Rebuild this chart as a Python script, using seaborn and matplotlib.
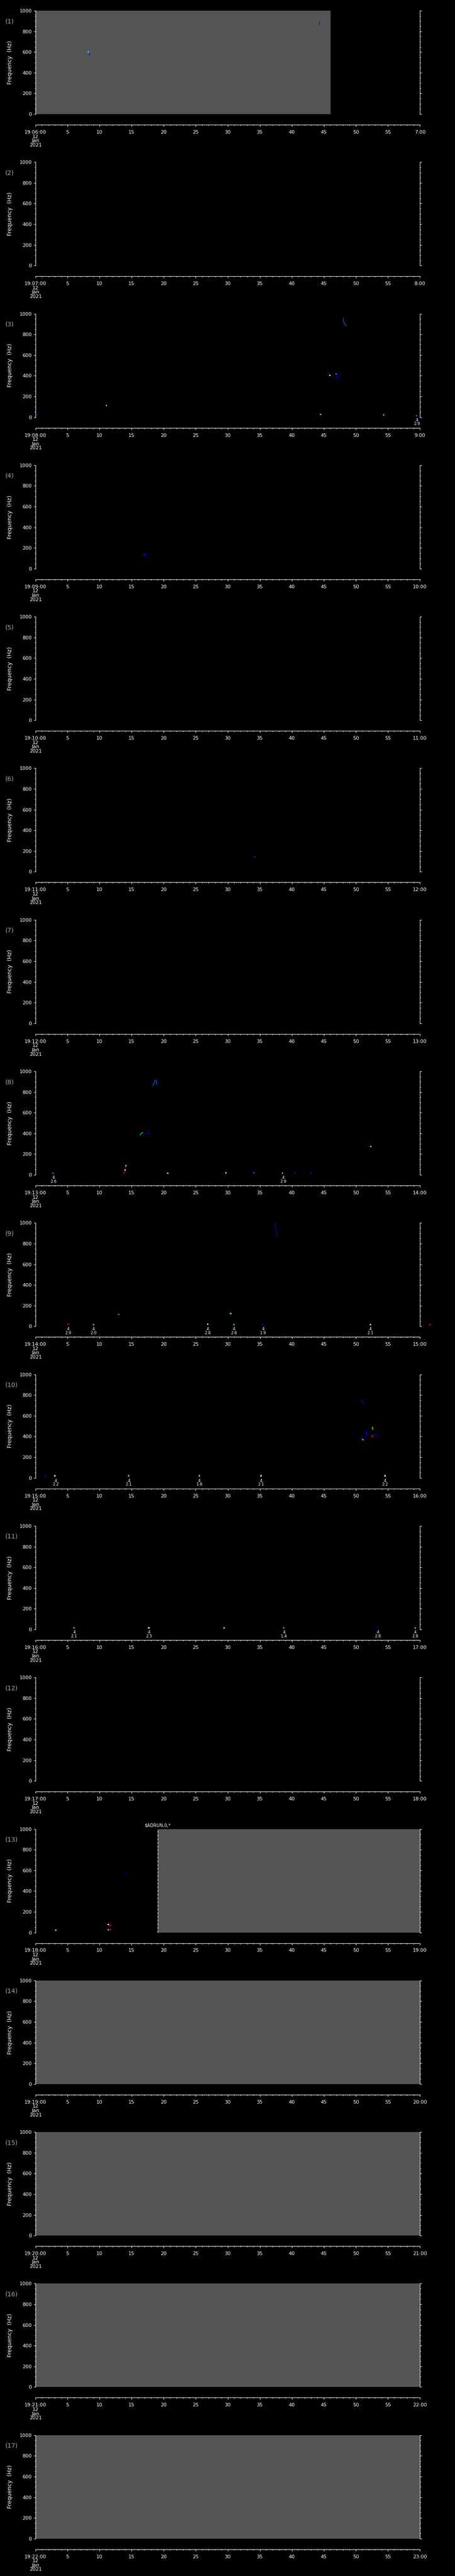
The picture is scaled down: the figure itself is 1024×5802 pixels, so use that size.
import numpy as np
import pandas as pd
import matplotlib
matplotlib.use("Agg")
import matplotlib.pyplot as plt
import matplotlib.transforms as mtransforms
from matplotlib.ticker import MultipleLocator
import seaborn as sns

# ---------------- data ----------------
N_PANELS = 17
START_MINUTE = [6 + i for i in range(N_PANELS)]          # 19:06 ... 19:22
FREQ_TICKS = [0, 200, 400, 600, 800, 1000]

# grey (no-data) spans per panel, seconds
gray_panel = [1, 13, 14, 15, 16, 17]
gray_start = [0.0, 19.05, 0.0, 0.0, 0.0, 0.0]
gray_end = [46.03, 60.0, 60.0, 60.0, 60.0, 60.0]
gap_marker_panel = [13]
gap_marker_text = ["$ADRUN,0,*"]

# streak tracks (time s, frequency Hz)
track_panel = [1, 1, 3, 3, 3, 8, 8, 8, 8, 9, 10, 10, 10, 10, 10, 13, 13]
track_color = ["blue", "dodger", "dodger", "blue", "blue", "dodger", "cyan", "blue", "red",
               "blue", "blue", "blue", "blue", "yellow", "blue", "blue", "red"]
track_t = [
    [44.31, 44.33],
    [8.22, 8.27, 8.40],
    [48.03, 48.10, 48.20, 48.25, 48.38, 48.48],
    [45.58, 45.78, 45.95],
    [46.57, 47.00, 47.12, 47.17],
    [18.32, 18.42, 18.55, 18.68, 18.85, 18.91],
    [16.33, 16.50, 16.78],
    [17.46, 17.60, 17.82],
    [14.00, 14.06, 14.10],
    [37.37, 37.51, 37.60, 37.65, 37.78],
    [50.93, 50.98, 51.34],
    [50.93, 50.98, 51.11],
    [51.45, 51.55, 51.70, 51.72],
    [52.60, 52.62],
    [52.70, 52.95, 53.10, 53.40],
    [13.90, 13.95],
    [11.45, 11.70],
]
track_f = [
    [897, 860],
    [603, 585, 577],
    [957, 921, 912, 900, 895, 878],
    [442, 420, 403],
    [413, 418, 412, 370],
    [858, 880, 895, 913, 913, 870],
    [383, 402, 410],
    [420, 392, 405],
    [47, 75, 90],
    [1000, 925, 925, 875, 875],
    [759, 731, 725],
    [402, 366, 372],
    [395, 410, 452, 415],
    [492, 466],
    [406, 419, 410, 408],
    [576, 590],
    [78, 68],
]

# isolated pixels (time s, frequency Hz)
dot_panel = [1, 1,
             3, 3, 3, 3, 3, 3, 3,
             4, 6,
             8, 8, 8, 8, 8, 8, 8, 8, 8, 8, 8,
             9, 9, 9, 9, 9, 9, 9, 9, 9,
             10, 10, 10, 10, 10, 10, 10, 10,
             11, 11, 11, 11, 11, 11,
             13, 13, 13, 13, 13]
dot_t = [8.22, 8.42,
         45.95, 46.90, 11.07, 0.32, 44.49, 54.33, 59.50,
         17.0, 34.2,
         14.10, 14.00, 13.83, 52.33, 2.72, 20.63, 29.70, 34.10, 38.55, 40.54, 43.08,
         12.97, 30.45, 5.12, 9.07, 26.85, 30.98, 35.51, 52.24, 61.54,
         51.08, 52.58, 1.54, 3.04, 14.56, 25.58, 35.19, 54.56,
         6.03, 17.69, 29.43, 38.77, 53.47, 59.27,
         11.34, 11.65, 11.34, 11.65, 3.13]
dot_f = [603, 576,
         405, 418, 113, 20, 27, 22, 15,
         137, 144,
         90, 47, 20, 272, 15, 15, 20, 20, 15, 20, 15,
         117, 122, 21, 17, 21, 17, 17, 17, 18,
         368, 404, 20, 20, 20, 20, 20, 20,
         16, 16, 16, 16, 16, 16,
         78, 70, 25, 25, 22]
dot_color = ["cyan", "blue",
             "yellow", "dodger", "cyan", "blue", "cyan", "cyan", "dodger",
             "blue", "blue",
             "green", "yellow", "red", "green", "dodger", "yellow", "yellow", "dodger", "orange", "blue", "blue",
             "dodger", "green", "red", "cyan", "yellow", "cyan", "blue", "yellow", "red",
             "cyan", "red", "blue", "yellow", "cyan", "cyan", "yellow", "yellow",
             "cyan", "yellow", "yellow", "orange", "blue", "cyan",
             "yellow", "red", "cyan", "red", "yellow"]

# small "4 / x.x" annotations under low-frequency pixels
lab_panel = [3, 8, 8, 9, 9, 9, 9, 9, 9, 10, 10, 10, 10, 10, 11, 11, 11, 11, 11]
lab_t = [59.55, 2.81, 38.64, 5.12, 9.07, 26.85, 30.98, 35.51, 52.24,
         3.17, 14.56, 25.58, 35.19, 54.56, 6.03, 17.69, 38.77, 53.47, 59.27]
lab_val = ["2.9", "2.6", "2.9", "2.9", "2.0", "2.8", "2.8", "1.9", "2.1",
           "2.2", "2.1", "1.8", "2.1", "2.2", "2.1", "2.5", "1.4", "2.8", "2.8"]

PAL = {"blue": "#0000ff", "dodger": "#0070ff", "cyan": "#00e0ff", "green": "#40ff80",
       "yellow": "#ffff00", "orange": "#ff8000", "red": "#ff0000"}

# ---------------- tables ----------------
rows = []
for k, (p, c, ts, fs) in enumerate(zip(track_panel, track_color, track_t, track_f)):
    for t, f in zip(ts, fs):
        rows.append(dict(panel=p, track=k, color=c, t=t, f=f))
tracks = pd.DataFrame(rows)
dots = pd.DataFrame(dict(panel=dot_panel, t=dot_t, f=dot_f, color=dot_color))

# ---------------- style ----------------
sns.set_theme(style="ticks", rc={"figure.facecolor": "black", "axes.facecolor": "black",
                                  "text.color": "white", "xtick.color": "white",
                                  "ytick.color": "white", "axes.edgecolor": "white"})
plt.rcParams["font.family"] = ["DejaVu Sans"]

W, H = 1024, 5802
fig = plt.figure(figsize=(W / 100, H / 100), dpi=100, facecolor="black")
PH = H / N_PANELS
L, AW = 80, 865
LW = 0.8

for i in range(N_PANELS):
    pnum = i + 1
    o = i * PH
    ax = fig.add_axes([L / W, 1 - (o + 257) / H, AW / W, 233 / H])
    ax.set_facecolor("black")

    for gp, gs, ge in zip(gray_panel, gray_start, gray_end):
        if gp == pnum:
            ax.axvspan(gs, ge, color="#555555", lw=0, zorder=0.5)
            if gp in gap_marker_panel:
                ax.axvline(gs, color="white", lw=LW, ls=(0, (5, 2.5)), zorder=3)
                txt = gap_marker_text[gap_marker_panel.index(gp)]
                trans = mtransforms.blended_transform_factory(ax.transData, ax.transAxes)
                ax.text(gs, 1 + 8.5 / 233, txt, transform=trans, ha="center", va="center",
                        fontsize=7, color="white")

    sub = tracks[tracks.panel == pnum]
    if len(sub):
        sns.lineplot(data=sub, x="t", y="f", hue="color", units="track", estimator=None,
                     sort=False, palette=PAL, legend=False, lw=0.9, ax=ax, zorder=4)
    subd = dots[dots.panel == pnum]
    if len(subd):
        sns.scatterplot(data=subd, x="t", y="f", hue="color", palette=PAL, marker="s", s=5,
                        linewidth=0, legend=False, ax=ax, clip_on=False, zorder=5)

    trans = mtransforms.blended_transform_factory(ax.transData, ax.transAxes)
    for lp, lt, lv in zip(lab_panel, lab_t, lab_val):
        if lp == pnum:
            ax.text(lt, -2.0 / 233, f"4\n{lv}", transform=trans, ha="center", va="top",
                    fontsize=6.5, color="white", linespacing=0.95)

    ax.set_xlim(0, 60)
    ax.set_ylim(0, 1000)
    ax.set_xlabel("")
    ax.set_ylabel("")
    ax.grid(False)
    for s in ["top", "bottom"]:
        ax.spines[s].set_visible(False)
    for s in ["left", "right"]:
        ax.spines[s].set_visible(True)
        ax.spines[s].set_color("white")
        ax.spines[s].set_linewidth(LW)
    ax.tick_params(axis="x", which="both", bottom=False, top=False, labelbottom=False)
    ax.yaxis.set_major_locator(MultipleLocator(200))
    ax.yaxis.set_minor_locator(MultipleLocator(50))
    ax.set_yticks(FREQ_TICKS)
    ax.set_yticklabels([str(v) for v in FREQ_TICKS])
    ax.tick_params(axis="y", which="both", direction="out", left=True, right=True,
                   labelleft=True, labelright=False, colors="white", width=LW)
    ax.tick_params(axis="y", which="major", length=2.6, pad=3.4, labelsize=8)
    ax.tick_params(axis="y", which="minor", length=1.5)

    fig.text(12 / W, 1 - (o + 48) / H, f"({pnum})", color="#a8a8a8", fontsize=10,
             ha="left", va="center")
    fig.text(23 / W, 1 - (o + 140.5) / H, "Frequency  (Hz)", rotation=90, color="white",
             fontsize=9, ha="center", va="center")

    # time axis
    tax = fig.add_axes([L / W, 1 - (o + 281) / H, AW / W, 0.00001])
    tax.set_facecolor("none")
    tax.patch.set_alpha(0)
    for s in ["top", "left", "right"]:
        tax.spines[s].set_visible(False)
    tax.spines["bottom"].set_color("white")
    tax.spines["bottom"].set_linewidth(LW)
    tax.set_xlim(0, 60)
    tax.set_yticks([])
    m = START_MINUTE[i]
    ticks = list(range(0, 61, 5))
    labels = [f"19:{m:02d}:00\n12\nJan\n2021"] + [str(v) for v in ticks[1:-1]] + [f"{m + 1}:00"]
    tax.set_xticks(ticks)
    tax.set_xticklabels(labels, linespacing=0.95)
    tax.xaxis.set_minor_locator(MultipleLocator(1))
    tax.tick_params(axis="x", which="both", direction="out", colors="white", width=LW)
    tax.tick_params(axis="x", which="major", length=3.0, pad=5.6, labelsize=8)
    tax.tick_params(axis="x", which="minor", length=1.6)

fig.savefig("out.png", dpi=100, facecolor="black")
